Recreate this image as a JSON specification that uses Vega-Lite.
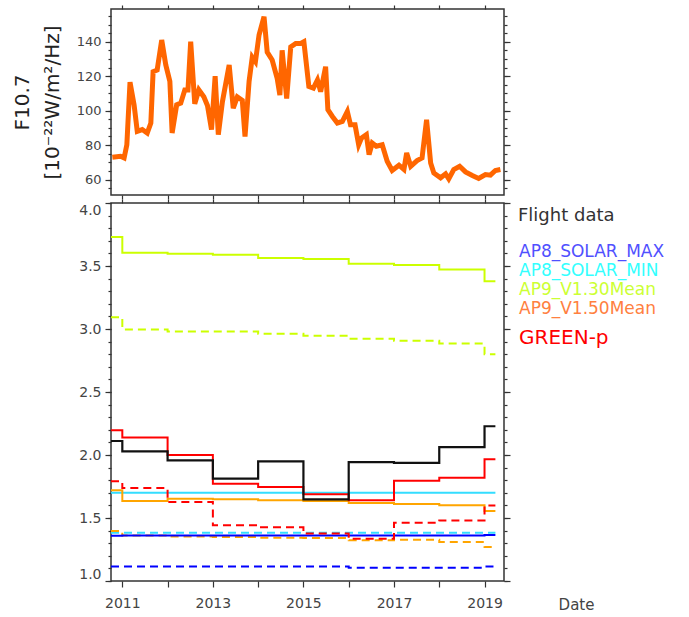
{
  "$schema": "https://vega.github.io/schema/vega-lite/v6.json",
  "padding": {"left": 11, "top": 3, "right": 5, "bottom": 5},
  "background": "white",
  "config": {
    "view": {"stroke": "#333", "strokeWidth": 1.5},
    "axis": {"labelFont": "DejaVu Sans", "labelColor": "#444", "labelFontSize": 13, "tickColor": "#333", "tickWidth": 1.2, "domain": false, "grid": false, "titleFont": "DejaVu Sans", "titleFontWeight": "normal", "titleColor": "#222"}
  },
  "datasets": {
    "f107": [
      {"year": 2010.78, "f107": 72.9}, {"year": 2010.96, "f107": 73.5}, {"year": 2011.04, "f107": 72.5}, {"year": 2011.10, "f107": 80.2},
      {"year": 2011.17, "f107": 116.5}, {"year": 2011.26, "f107": 103.4}, {"year": 2011.33, "f107": 88}, {"year": 2011.44, "f107": 89},
      {"year": 2011.55, "f107": 87}, {"year": 2011.63, "f107": 92.8}, {"year": 2011.68, "f107": 122.6}, {"year": 2011.77, "f107": 123.6},
      {"year": 2011.87, "f107": 141}, {"year": 2011.96, "f107": 126.5}, {"year": 2012.05, "f107": 117}, {"year": 2012.10, "f107": 87},
      {"year": 2012.20, "f107": 103.4}, {"year": 2012.29, "f107": 104.3}, {"year": 2012.38, "f107": 112}, {"year": 2012.45, "f107": 112},
      {"year": 2012.51, "f107": 140}, {"year": 2012.60, "f107": 104}, {"year": 2012.69, "f107": 112}, {"year": 2012.80, "f107": 108},
      {"year": 2012.88, "f107": 103}, {"year": 2012.97, "f107": 89}, {"year": 2013.05, "f107": 120}, {"year": 2013.12, "f107": 86},
      {"year": 2013.21, "f107": 105}, {"year": 2013.36, "f107": 126.5}, {"year": 2013.45, "f107": 101.4}, {"year": 2013.54, "f107": 108},
      {"year": 2013.65, "f107": 106}, {"year": 2013.71, "f107": 85}, {"year": 2013.80, "f107": 117}, {"year": 2013.87, "f107": 131},
      {"year": 2013.94, "f107": 128.4}, {"year": 2014.02, "f107": 143.9}, {"year": 2014.13, "f107": 154.5}, {"year": 2014.20, "f107": 134},
      {"year": 2014.31, "f107": 129.4}, {"year": 2014.42, "f107": 118.8}, {"year": 2014.48, "f107": 109}, {"year": 2014.53, "f107": 135},
      {"year": 2014.63, "f107": 107}, {"year": 2014.72, "f107": 137}, {"year": 2014.83, "f107": 139}, {"year": 2014.94, "f107": 139},
      {"year": 2015.01, "f107": 140}, {"year": 2015.12, "f107": 114}, {"year": 2015.22, "f107": 113}, {"year": 2015.31, "f107": 117.8},
      {"year": 2015.38, "f107": 111}, {"year": 2015.49, "f107": 125.5}, {"year": 2015.54, "f107": 100.5}, {"year": 2015.64, "f107": 96.6},
      {"year": 2015.75, "f107": 92.8}, {"year": 2015.86, "f107": 93.7}, {"year": 2015.97, "f107": 99.5}, {"year": 2016.04, "f107": 91.8},
      {"year": 2016.14, "f107": 91.8}, {"year": 2016.22, "f107": 80.2}, {"year": 2016.28, "f107": 84}, {"year": 2016.39, "f107": 86},
      {"year": 2016.45, "f107": 74.4}, {"year": 2016.52, "f107": 81.2}, {"year": 2016.61, "f107": 79.3}, {"year": 2016.74, "f107": 80.2},
      {"year": 2016.85, "f107": 70.6}, {"year": 2016.96, "f107": 65.2}, {"year": 2017.11, "f107": 68.3}, {"year": 2017.22, "f107": 65.8},
      {"year": 2017.28, "f107": 75.4}, {"year": 2017.37, "f107": 67.7}, {"year": 2017.51, "f107": 71}, {"year": 2017.62, "f107": 72.5},
      {"year": 2017.72, "f107": 94.7}, {"year": 2017.81, "f107": 69.6}, {"year": 2017.88, "f107": 63.8}, {"year": 2018.03, "f107": 61},
      {"year": 2018.14, "f107": 63.3}, {"year": 2018.21, "f107": 60.4}, {"year": 2018.32, "f107": 65.8}, {"year": 2018.45, "f107": 67.7},
      {"year": 2018.58, "f107": 64.4}, {"year": 2018.73, "f107": 62.3}, {"year": 2018.87, "f107": 60.6}, {"year": 2019.02, "f107": 62.9},
      {"year": 2019.13, "f107": 62.5}, {"year": 2019.24, "f107": 65.2}, {"year": 2019.35, "f107": 65.8}
    ],
    "flight": [
      {"year": 2010.75, "value": 2.111}, {"year": 2011, "value": 2.029}, {"year": 2012, "value": 1.958}, {"year": 2013, "value": 1.812},
      {"year": 2014, "value": 1.95}, {"year": 2015, "value": 1.648}, {"year": 2016, "value": 1.944}, {"year": 2017, "value": 1.937},
      {"year": 2018, "value": 2.063}, {"year": 2019, "value": 2.228}, {"year": 2019.24, "value": 2.228}
    ],
    "models": [
      {"model": "AP9_V1.30Mean", "style": "solid", "year": 2010.75, "value": 3.73},
      {"model": "AP9_V1.30Mean", "style": "solid", "year": 2011, "value": 3.606},
      {"model": "AP9_V1.30Mean", "style": "solid", "year": 2012, "value": 3.598},
      {"model": "AP9_V1.30Mean", "style": "solid", "year": 2013, "value": 3.59},
      {"model": "AP9_V1.30Mean", "style": "solid", "year": 2014, "value": 3.563},
      {"model": "AP9_V1.30Mean", "style": "solid", "year": 2015, "value": 3.556},
      {"model": "AP9_V1.30Mean", "style": "solid", "year": 2016, "value": 3.518},
      {"model": "AP9_V1.30Mean", "style": "solid", "year": 2017, "value": 3.508},
      {"model": "AP9_V1.30Mean", "style": "solid", "year": 2018, "value": 3.473},
      {"model": "AP9_V1.30Mean", "style": "solid", "year": 2019, "value": 3.378},
      {"model": "AP9_V1.30Mean", "style": "solid", "year": 2019.24, "value": 3.378},
      {"model": "AP9_V1.30Mean", "style": "dashed", "year": 2010.75, "value": 3.093},
      {"model": "AP9_V1.30Mean", "style": "dashed", "year": 2011, "value": 2.997},
      {"model": "AP9_V1.30Mean", "style": "dashed", "year": 2012, "value": 2.981},
      {"model": "AP9_V1.30Mean", "style": "dashed", "year": 2013, "value": 2.98},
      {"model": "AP9_V1.30Mean", "style": "dashed", "year": 2014, "value": 2.963},
      {"model": "AP9_V1.30Mean", "style": "dashed", "year": 2015, "value": 2.947},
      {"model": "AP9_V1.30Mean", "style": "dashed", "year": 2016, "value": 2.923},
      {"model": "AP9_V1.30Mean", "style": "dashed", "year": 2017, "value": 2.907},
      {"model": "AP9_V1.30Mean", "style": "dashed", "year": 2018, "value": 2.884},
      {"model": "AP9_V1.30Mean", "style": "dashed", "year": 2019, "value": 2.799},
      {"model": "AP9_V1.30Mean", "style": "dashed", "year": 2019.24, "value": 2.799},
      {"model": "AP8_SOLAR_MIN", "style": "solid", "year": 2010.75, "value": 1.70},
      {"model": "AP8_SOLAR_MIN", "style": "solid", "year": 2011, "value": 1.70},
      {"model": "AP8_SOLAR_MIN", "style": "solid", "year": 2012, "value": 1.70},
      {"model": "AP8_SOLAR_MIN", "style": "solid", "year": 2013, "value": 1.70},
      {"model": "AP8_SOLAR_MIN", "style": "solid", "year": 2014, "value": 1.70},
      {"model": "AP8_SOLAR_MIN", "style": "solid", "year": 2015, "value": 1.70},
      {"model": "AP8_SOLAR_MIN", "style": "solid", "year": 2016, "value": 1.70},
      {"model": "AP8_SOLAR_MIN", "style": "solid", "year": 2017, "value": 1.70},
      {"model": "AP8_SOLAR_MIN", "style": "solid", "year": 2018, "value": 1.70},
      {"model": "AP8_SOLAR_MIN", "style": "solid", "year": 2019, "value": 1.70},
      {"model": "AP8_SOLAR_MIN", "style": "solid", "year": 2019.24, "value": 1.70},
      {"model": "AP8_SOLAR_MIN", "style": "dashed", "year": 2010.75, "value": 1.383},
      {"model": "AP8_SOLAR_MIN", "style": "dashed", "year": 2011, "value": 1.383},
      {"model": "AP8_SOLAR_MIN", "style": "dashed", "year": 2012, "value": 1.383},
      {"model": "AP8_SOLAR_MIN", "style": "dashed", "year": 2013, "value": 1.383},
      {"model": "AP8_SOLAR_MIN", "style": "dashed", "year": 2014, "value": 1.383},
      {"model": "AP8_SOLAR_MIN", "style": "dashed", "year": 2015, "value": 1.383},
      {"model": "AP8_SOLAR_MIN", "style": "dashed", "year": 2016, "value": 1.383},
      {"model": "AP8_SOLAR_MIN", "style": "dashed", "year": 2017, "value": 1.383},
      {"model": "AP8_SOLAR_MIN", "style": "dashed", "year": 2018, "value": 1.383},
      {"model": "AP8_SOLAR_MIN", "style": "dashed", "year": 2019, "value": 1.383},
      {"model": "AP8_SOLAR_MIN", "style": "dashed", "year": 2019.24, "value": 1.383},
      {"model": "AP9_V1.50Mean", "style": "solid", "year": 2010.75, "value": 1.72},
      {"model": "AP9_V1.50Mean", "style": "solid", "year": 2011, "value": 1.635},
      {"model": "AP9_V1.50Mean", "style": "solid", "year": 2012, "value": 1.653},
      {"model": "AP9_V1.50Mean", "style": "solid", "year": 2013, "value": 1.648},
      {"model": "AP9_V1.50Mean", "style": "solid", "year": 2014, "value": 1.64},
      {"model": "AP9_V1.50Mean", "style": "solid", "year": 2015, "value": 1.635},
      {"model": "AP9_V1.50Mean", "style": "solid", "year": 2016, "value": 1.619},
      {"model": "AP9_V1.50Mean", "style": "solid", "year": 2017, "value": 1.611},
      {"model": "AP9_V1.50Mean", "style": "solid", "year": 2018, "value": 1.601},
      {"model": "AP9_V1.50Mean", "style": "solid", "year": 2019, "value": 1.556},
      {"model": "AP9_V1.50Mean", "style": "solid", "year": 2019.24, "value": 1.556},
      {"model": "AP9_V1.50Mean", "style": "dashed", "year": 2010.75, "value": 1.397},
      {"model": "AP9_V1.50Mean", "style": "dashed", "year": 2011, "value": 1.362},
      {"model": "AP9_V1.50Mean", "style": "dashed", "year": 2012, "value": 1.354},
      {"model": "AP9_V1.50Mean", "style": "dashed", "year": 2013, "value": 1.349},
      {"model": "AP9_V1.50Mean", "style": "dashed", "year": 2014, "value": 1.344},
      {"model": "AP9_V1.50Mean", "style": "dashed", "year": 2015, "value": 1.341},
      {"model": "AP9_V1.50Mean", "style": "dashed", "year": 2016, "value": 1.323},
      {"model": "AP9_V1.50Mean", "style": "dashed", "year": 2017, "value": 1.328},
      {"model": "AP9_V1.50Mean", "style": "dashed", "year": 2018, "value": 1.31},
      {"model": "AP9_V1.50Mean", "style": "dashed", "year": 2019, "value": 1.27},
      {"model": "AP9_V1.50Mean", "style": "dashed", "year": 2019.24, "value": 1.27},
      {"model": "AP8_SOLAR_MAX", "style": "solid", "year": 2010.75, "value": 1.36},
      {"model": "AP8_SOLAR_MAX", "style": "solid", "year": 2011, "value": 1.362},
      {"model": "AP8_SOLAR_MAX", "style": "solid", "year": 2012, "value": 1.362},
      {"model": "AP8_SOLAR_MAX", "style": "solid", "year": 2013, "value": 1.362},
      {"model": "AP8_SOLAR_MAX", "style": "solid", "year": 2014, "value": 1.362},
      {"model": "AP8_SOLAR_MAX", "style": "solid", "year": 2015, "value": 1.362},
      {"model": "AP8_SOLAR_MAX", "style": "solid", "year": 2016, "value": 1.362},
      {"model": "AP8_SOLAR_MAX", "style": "solid", "year": 2017, "value": 1.362},
      {"model": "AP8_SOLAR_MAX", "style": "solid", "year": 2018, "value": 1.362},
      {"model": "AP8_SOLAR_MAX", "style": "solid", "year": 2019, "value": 1.365},
      {"model": "AP8_SOLAR_MAX", "style": "solid", "year": 2019.24, "value": 1.365},
      {"model": "AP8_SOLAR_MAX", "style": "dashed", "year": 2010.75, "value": 1.116},
      {"model": "AP8_SOLAR_MAX", "style": "dashed", "year": 2011, "value": 1.116},
      {"model": "AP8_SOLAR_MAX", "style": "dashed", "year": 2012, "value": 1.116},
      {"model": "AP8_SOLAR_MAX", "style": "dashed", "year": 2013, "value": 1.116},
      {"model": "AP8_SOLAR_MAX", "style": "dashed", "year": 2014, "value": 1.116},
      {"model": "AP8_SOLAR_MAX", "style": "dashed", "year": 2015, "value": 1.116},
      {"model": "AP8_SOLAR_MAX", "style": "dashed", "year": 2016, "value": 1.106},
      {"model": "AP8_SOLAR_MAX", "style": "dashed", "year": 2017, "value": 1.106},
      {"model": "AP8_SOLAR_MAX", "style": "dashed", "year": 2018, "value": 1.106},
      {"model": "AP8_SOLAR_MAX", "style": "dashed", "year": 2019, "value": 1.116},
      {"model": "AP8_SOLAR_MAX", "style": "dashed", "year": 2019.24, "value": 1.116},
      {"model": "GREEN-p", "style": "solid", "year": 2010.75, "value": 2.196},
      {"model": "GREEN-p", "style": "solid", "year": 2011, "value": 2.138},
      {"model": "GREEN-p", "style": "solid", "year": 2012, "value": 2.0},
      {"model": "GREEN-p", "style": "solid", "year": 2013, "value": 1.772},
      {"model": "GREEN-p", "style": "solid", "year": 2014, "value": 1.746},
      {"model": "GREEN-p", "style": "solid", "year": 2015, "value": 1.688},
      {"model": "GREEN-p", "style": "solid", "year": 2016, "value": 1.64},
      {"model": "GREEN-p", "style": "solid", "year": 2017, "value": 1.796},
      {"model": "GREEN-p", "style": "solid", "year": 2018, "value": 1.82},
      {"model": "GREEN-p", "style": "solid", "year": 2019, "value": 1.966},
      {"model": "GREEN-p", "style": "solid", "year": 2019.24, "value": 1.966},
      {"model": "GREEN-p", "style": "dashed", "year": 2010.75, "value": 1.791},
      {"model": "GREEN-p", "style": "dashed", "year": 2011, "value": 1.738},
      {"model": "GREEN-p", "style": "dashed", "year": 2012, "value": 1.627},
      {"model": "GREEN-p", "style": "dashed", "year": 2013, "value": 1.442},
      {"model": "GREEN-p", "style": "dashed", "year": 2014, "value": 1.426},
      {"model": "GREEN-p", "style": "dashed", "year": 2015, "value": 1.376},
      {"model": "GREEN-p", "style": "dashed", "year": 2016, "value": 1.336},
      {"model": "GREEN-p", "style": "dashed", "year": 2017, "value": 1.463},
      {"model": "GREEN-p", "style": "dashed", "year": 2018, "value": 1.481},
      {"model": "GREEN-p", "style": "dashed", "year": 2019, "value": 1.6},
      {"model": "GREEN-p", "style": "dashed", "year": 2019.24, "value": 1.6}
    ]
  },
  "spacing": -4,
  "resolve": {"scale": {"color": "independent", "strokeDash": "independent"}, "legend": {"color": "independent", "strokeDash": "independent"}},
  "vconcat": [
    {
      "width": 393,
      "height": 186,
      "data": {"name": "f107"},
      "layer": [
        {
          "mark": {"type": "line", "color": "#ff6600", "strokeWidth": 5, "strokeJoin": "miter"},
          "encoding": {
            "x": {"field": "year", "type": "quantitative", "scale": {"domain": [2010.75, 2019.43], "nice": false, "zero": false},
                  "axis": {"orient": "bottom", "values": [2011, 2012, 2013, 2014, 2015, 2016, 2017, 2018, 2019], "labels": false, "tickSize": 4, "title": null}},
            "y": {"field": "f107", "type": "quantitative", "scale": {"domain": [51, 159], "nice": false, "zero": false},
                  "axis": {"orient": "left", "values": [60, 80, 100, 120, 140], "tickSize": 6, "labelPadding": 4, "title": ["F10.7", "[10⁻²²W/m²/Hz]"], "titleFontSize": 20, "titleLineHeight": 30, "titlePadding": 14}}
          }
        },
        {
          "mark": {"type": "line", "opacity": 0},
          "encoding": {
            "x": {"field": "year", "type": "quantitative", "scale": {"domain": [2010.75, 2019.43], "nice": false, "zero": false},
                  "axis": {"orient": "top", "values": [2011, 2012, 2013, 2014, 2015, 2016, 2017, 2018, 2019], "labels": false, "tickSize": 4, "title": null}},
            "y": {"field": "f107", "type": "quantitative", "scale": {"domain": [51, 159], "nice": false, "zero": false},
                  "axis": {"orient": "left", "values": [55, 60, 65, 70, 75, 80, 85, 90, 95, 100, 105, 110, 115, 120, 125, 130, 135, 140, 145, 150, 155], "labels": false, "tickSize": 3, "title": null}}
          }
        },
        {
          "mark": {"type": "line", "opacity": 0},
          "encoding": {
            "x": {"field": "year", "type": "quantitative", "scale": {"domain": [2010.75, 2019.43], "nice": false, "zero": false}, "axis": null},
            "y": {"field": "f107", "type": "quantitative", "scale": {"domain": [51, 159], "nice": false, "zero": false},
                  "axis": {"orient": "right", "values": [60, 80, 100, 120, 140], "labels": false, "tickSize": 6, "title": null}}
          }
        },
        {
          "mark": {"type": "line", "opacity": 0},
          "encoding": {
            "x": {"field": "year", "type": "quantitative", "scale": {"domain": [2010.75, 2019.43], "nice": false, "zero": false}, "axis": null},
            "y": {"field": "f107", "type": "quantitative", "scale": {"domain": [51, 159], "nice": false, "zero": false},
                  "axis": {"orient": "right", "values": [55, 60, 65, 70, 75, 80, 85, 90, 95, 100, 105, 110, 115, 120, 125, 130, 135, 140, 145, 150, 155], "labels": false, "tickSize": 3, "title": null}}
          }
        }
      ],
      "resolve": {"axis": {"x": "independent", "y": "independent"}}
    },
    {
      "width": 393,
      "height": 378,
      "layer": [
        {
          "data": {"name": "models"},
          "mark": {"type": "line", "interpolate": "step-after", "strokeWidth": 2},
          "encoding": {
            "x": {"field": "year", "type": "quantitative", "scale": {"domain": [2010.75, 2019.43], "nice": false, "zero": false},
                  "axis": {"orient": "bottom", "values": [2011, 2012, 2013, 2014, 2015, 2016, 2017, 2018, 2019], "format": "d", "labelExpr": "datum.value % 2 === 1 ? datum.label : ''", "labelFontSize": 14, "tickSize": 6, "labelPadding": 9, "labelFlush": false,
                           "title": "Date", "titleX": 465, "titleY": 23, "titleBaseline": "middle", "titleAlign": "center", "titleFont": "DejaVu Sans", "titleFontSize": 15, "titleColor": "#444"}},
            "y": {"field": "value", "type": "quantitative", "scale": {"domain": [1, 4], "nice": false, "zero": false},
                  "axis": {"orient": "left", "values": [1, 1.5, 2, 2.5, 3, 3.5, 4], "format": ".1f", "labelFlush": true, "labelFontSize": 14, "tickSize": 6, "labelPadding": 4, "title": null}},
            "color": {"field": "model", "type": "nominal",
                      "scale": {"domain": ["AP8_SOLAR_MAX", "AP8_SOLAR_MIN", "AP9_V1.30Mean", "AP9_V1.50Mean", "GREEN-p"], "range": ["#0000ff", "#33ddff", "#ccff00", "#ffa500", "#ff0000"]},
                      "legend": {"orient": "right", "title": "Flight data", "titleColor": "#333", "titleFont": "DejaVu Sans", "titleFontSize": 18, "titleFontWeight": "normal", "titlePadding": 18,
                                 "labelFont": "DejaVu Sans", "labelFontSize": 17, "labelLimit": 300, "labelOffset": -16, "symbolSize": 0, "symbolOpacity": 0, "symbolStrokeWidth": 0, "rowPadding": 1, "offset": 3, "padding": 4,
                                 "encode": {"labels": {"update": {
                                   "fill": {"signal": "datum.value === 'AP8_SOLAR_MAX' ? '#5050ff' : datum.value === 'AP8_SOLAR_MIN' ? '#33ffff' : datum.value === 'AP9_V1.30Mean' ? '#ccff33' : datum.value === 'AP9_V1.50Mean' ? '#ff8040' : '#ff0000'"},
                                   "fontSize": {"signal": "datum.value === 'GREEN-p' ? 20 : 17"},
                                   "dy": {"signal": "datum.value === 'GREEN-p' ? 11 : 0"}}}}}},
            "strokeDash": {"field": "style", "type": "nominal", "scale": {"domain": ["solid", "dashed"], "range": [[1, 0], [8, 5]]}, "legend": null}
          }
        },
        {
          "data": {"name": "flight"},
          "mark": {"type": "line", "interpolate": "step-after", "strokeWidth": 2.2, "color": "#111"},
          "encoding": {
            "x": {"field": "year", "type": "quantitative", "scale": {"domain": [2010.75, 2019.43], "nice": false, "zero": false},
                  "axis": {"orient": "top", "values": [2011, 2012, 2013, 2014, 2015, 2016, 2017, 2018, 2019], "labels": false, "tickSize": 4, "title": null}},
            "y": {"field": "value", "type": "quantitative", "scale": {"domain": [1, 4], "nice": false, "zero": false},
                  "axis": {"orient": "left", "values": [1, 1.1, 1.2, 1.3, 1.4, 1.5, 1.6, 1.7, 1.8, 1.9, 2, 2.1, 2.2, 2.3, 2.4, 2.5, 2.6, 2.7, 2.8, 2.9, 3, 3.1, 3.2, 3.3, 3.4, 3.5, 3.6, 3.7, 3.8, 3.9, 4], "labels": false, "tickSize": 3, "title": null}}
          }
        },
        {
          "data": {"name": "flight"},
          "mark": {"type": "line", "opacity": 0},
          "encoding": {
            "x": {"field": "year", "type": "quantitative", "scale": {"domain": [2010.75, 2019.43], "nice": false, "zero": false}, "axis": null},
            "y": {"field": "value", "type": "quantitative", "scale": {"domain": [1, 4], "nice": false, "zero": false},
                  "axis": {"orient": "right", "values": [1, 1.5, 2, 2.5, 3, 3.5, 4], "labels": false, "tickSize": 6, "title": null}}
          }
        },
        {
          "data": {"name": "flight"},
          "mark": {"type": "line", "opacity": 0},
          "encoding": {
            "x": {"field": "year", "type": "quantitative", "scale": {"domain": [2010.75, 2019.43], "nice": false, "zero": false}, "axis": null},
            "y": {"field": "value", "type": "quantitative", "scale": {"domain": [1, 4], "nice": false, "zero": false},
                  "axis": {"orient": "right", "values": [1, 1.1, 1.2, 1.3, 1.4, 1.5, 1.6, 1.7, 1.8, 1.9, 2, 2.1, 2.2, 2.3, 2.4, 2.5, 2.6, 2.7, 2.8, 2.9, 3, 3.1, 3.2, 3.3, 3.4, 3.5, 3.6, 3.7, 3.8, 3.9, 4], "labels": false, "tickSize": 3, "title": null}}
          }
        }
      ],
      "resolve": {"axis": {"x": "independent", "y": "independent"}}
    }
  ]
}
